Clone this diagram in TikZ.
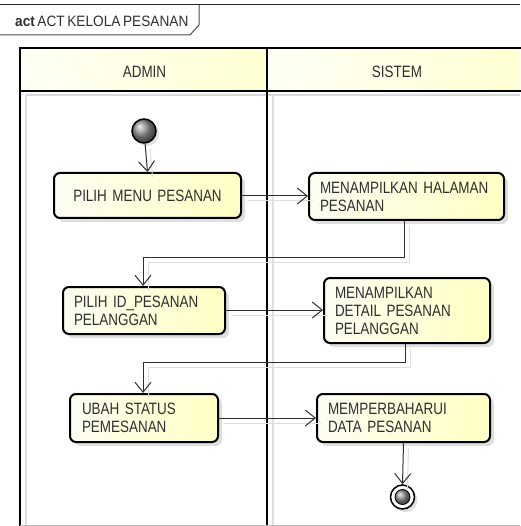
\documentclass[tikz,border=0pt]{standalone}
\usepackage{fontspec}
\setmainfont{Liberation Sans}
\newfontfamily\umlfont[FakeStretch=0.82,WordSpace=0.55]{Liberation Sans}
\newfontfamily\titlefont[FakeStretch=0.91,WordSpace=0.7]{Liberation Sans}
\usetikzlibrary{arrows.meta,shadows,calc}
\definecolor{boxL}{HTML}{FDFDF2}
\definecolor{boxR}{HTML}{FFFFC4}
\definecolor{hdrL}{HTML}{FFFFF6}
\definecolor{hdrR}{HTML}{FFFFD2}
\definecolor{txt}{HTML}{2E2E2E}
\tikzset{
  actbox/.style={draw=black, line width=2pt, rounded corners=6pt,
    left color=boxL, right color=boxR,
    drop shadow={shadow xshift=4pt, shadow yshift=-4pt, opacity=0.25},
    font=\umlfont\fontsize{16.4}{18}\selectfont, text=txt,
    inner xsep=11pt, inner ysep=0pt, align=left, anchor=north west},
  flow/.style={draw=txt, line width=1pt,
    -{Straight Barb[length=10pt,width=16pt]},
    preaction={draw=gray!25, line width=1pt, -, transform canvas={shift={(5pt,-5pt)}}}},
  lanetext/.style={font=\umlfont\fontsize{16.4}{18}\selectfont, text=txt},
  laneline/.style={draw=black, line width=2pt},
}
\begin{document}
\begin{tikzpicture}[x=1pt,y=-1pt]
\useasboundingbox (0,0) rectangle (520,526);
% frame and tab
\draw[line width=1pt, draw=black!85] (0,5) -- (520,5);
\draw[line width=1pt, draw=black!70] (0,35) -- (190,35) -- (199,25) -- (199,5);
\node[anchor=base west, inner sep=0, font=\titlefont\fontsize{15}{16}\selectfont, text=txt] (title) at (15,27) {\textbf{act}\,ACT KELOLA PESANAN};
% swimlane headers
\shade[left color=hdrL, right color=hdrR] (20,48) rectangle (267,91);
\shade[left color=hdrL, right color=hdrR] (267,48) rectangle (520,91);
\draw[gray!30, line width=2pt] (25,95) -- (520,95);
\draw[gray!25, line width=1.5pt] (26,95) -- (26,526);
\draw[gray!25, line width=1.5pt] (273,95) -- (273,526);
\draw[laneline] (20,526) -- (20,48) -- (522,48);
\draw[laneline] (20,91) -- (522,91);
\draw[laneline] (267,48) -- (267,526);
\draw[gray!50, line width=1pt] (20,525) -- (520,525);
\node[lanetext] (admin) at (144.5,72) {ADMIN};
\node[lanetext] (sistem) at (397,72) {SISTEM};
% start node
\node[circle, draw=black, line width=1.5pt, ball color=gray!85, minimum size=24pt, inner sep=0pt,
  drop shadow={shadow xshift=3pt, shadow yshift=-3pt, opacity=0.25}] (start) at (144,131) {};
% actions
\node[actbox, minimum width=187pt, minimum height=45pt, text width=165pt, align=center] (a1) at (53,172) {PILIH MENU PESANAN};
\node[actbox, minimum width=195pt, minimum height=47pt, text width=173pt] (a2) at (308,172) {MENAMPILKAN HALAMAN\\PESANAN};
\node[actbox, minimum width=162pt, minimum height=47pt, text width=140pt] (a3) at (62,286) {PILIH ID\_PESANAN\\PELANGGAN};
\node[actbox, minimum width=166pt, minimum height=65pt, text width=144pt] (a4) at (323,277) {MENAMPILKAN\\DETAIL PESANAN\\PELANGGAN};
\node[actbox, minimum width=148pt, minimum height=48pt, text width=124pt, inner xsep=12pt] (a5) at (69,393) {UBAH STATUS\\PEMESANAN};
\node[actbox, minimum width=173pt, minimum height=48pt, text width=151pt] (a6) at (316,393) {MEMPERBAHARUI\\DATA PESANAN};
% final node
\node[circle, draw=black, line width=1.5pt, fill=white, minimum size=24pt, inner sep=0pt,
  drop shadow={shadow xshift=3pt, shadow yshift=-3pt, opacity=0.25}] (end) at (402.5,497) {};
\node[circle, draw=black, line width=0.8pt, ball color=gray!85, minimum size=15pt, inner sep=0pt] (endin) at (end) {};
% bend points
\coordinate (b1) at (404,257);
\coordinate (b2) at (143,257);
\coordinate (b3) at (405,362);
\coordinate (b4) at (143,362);
% connectors
\draw[flow] (start) -- (a1.north);
\draw[flow] (a1.east |- 0,196) -- (a2.west |- 0,196);
\draw[flow] (a2.south -| b1) -- (b1) -- (b2) -- (a3.north -| b2);
\draw[flow] (a3.east |- 0,310) -- (a4.west |- 0,310);
\draw[flow] (a4.south -| b3) -- (b3) -- (b4) -- (a5.north -| b4);
\draw[flow] (a5.east |- 0,418) -- (a6.west |- 0,418);
\draw[flow] (a6.south) -- (end.north);
\end{tikzpicture}
\end{document}
